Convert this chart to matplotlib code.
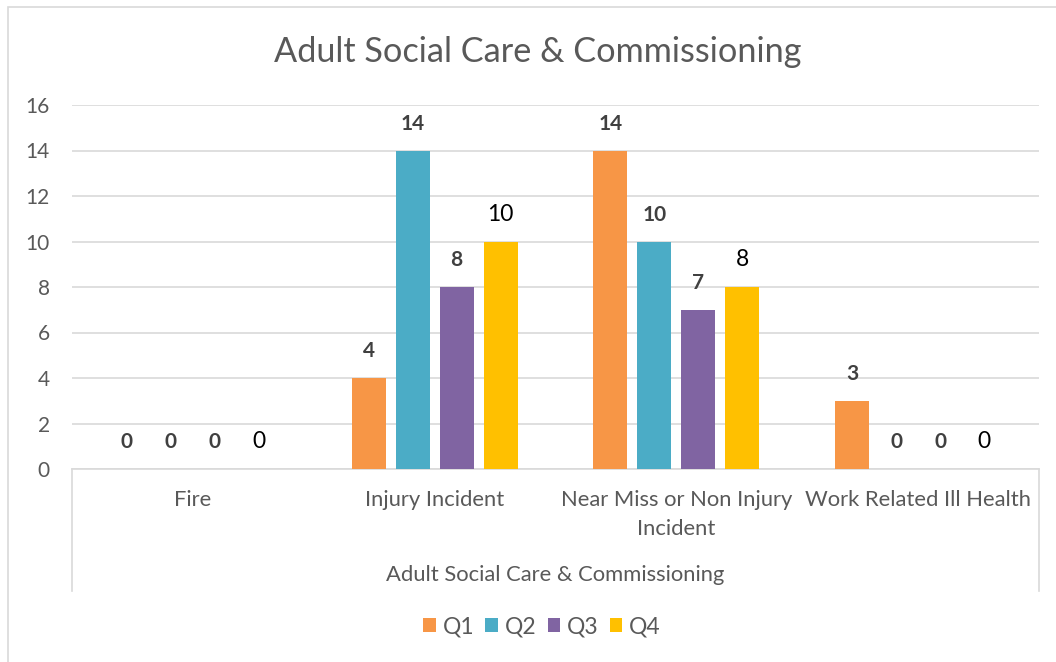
import matplotlib.pyplot as plt
import numpy as np
from matplotlib.patches import Rectangle

plt.rcParams['font.family'] = ['Lato', 'DejaVu Sans']

categories = ['Fire', 'Injury Incident', 'Near Miss or Non Injury\nIncident', 'Work Related Ill Health']
series = ['Q1', 'Q2', 'Q3', 'Q4']
q1 = [0, 4, 14, 3]
q2 = [0, 14, 10, 0]
q3 = [0, 8, 7, 0]
q4 = [0, 10, 8, 0]
colors = ['#F79646', '#4BACC6', '#8064A2', '#FFC000']
group_label = 'Adult Social Care & Commissioning'
title = 'Adult Social Care & Commissioning'

grey = '#595959'

fig = plt.figure(figsize=(10.56, 6.62), dpi=100)
ax = fig.add_axes([72 / 1056, 1 - 469 / 662, 967 / 1056, 364 / 662])

# chart border (only left/top visible in the original crop)
fig.patches.append(Rectangle((8 / 1056, -0.1), 1.2, 1 - 7 / 662 + 0.1,
                             transform=fig.transFigure, fill=False,
                             edgecolor='#D9D9D9', linewidth=1.2))

x = np.arange(len(categories))
pitch = 0.182
width = 0.14
for i, (name, vals) in enumerate(zip(series, [q1, q2, q3, q4])):
    pos = x + (i - 1.5) * pitch
    ax.bar(pos, vals, width, color=colors[i], label=name, zorder=3)
    for p, v in zip(pos, vals):
        if i < 3:
            ax.annotate(str(v), (p, v), xytext=(0, 12), textcoords='offset points',
                        ha='center', va='bottom', fontsize=15, fontweight='bold',
                        color='#404040')
        else:
            ax.annotate(str(v), (p, v), xytext=(0, 12), textcoords='offset points',
                        ha='center', va='bottom', fontsize=16.5, color='black')

ax.set_xlim(-0.5, len(categories) - 0.5)
ax.set_ylim(0, 16)
ax.set_yticks(range(0, 17, 2))
ax.yaxis.grid(True, color='#D9D9D9', linewidth=1.2, zorder=0)
ax.set_axisbelow(True)
ax.tick_params(axis='y', length=0, pad=16, labelsize=15, labelcolor=grey)
ax.set_xticks(x)
ax.set_xticklabels(categories, linespacing=1.55)
ax.tick_params(axis='x', length=0, pad=15, labelsize=15.8, labelcolor=grey)
for s in ['top', 'right', 'left']:
    ax.spines[s].set_visible(False)
ax.spines['bottom'].set_color('#D9D9D9')
ax.spines['bottom'].set_linewidth(1.2)

# multi-level category axis
ylow = -(591 - 469) / 364
for xa in [0, 1]:
    ax.plot([xa, xa], [0, ylow], transform=ax.transAxes, color='#D9D9D9',
            linewidth=1.2, clip_on=False)
ax.text(0.5, -(575 - 469) / 364, group_label, transform=ax.transAxes,
        ha='center', va='center', fontsize=15.8, color=grey)

fig.text(538 / 1056, 1 - 52 / 662, title, ha='center', va='center',
         fontsize=24.7, color=grey)

fig.legend(loc='center', bbox_to_anchor=(542 / 1056, 1 - 627 / 662), ncol=4,
           frameon=False, fontsize=16.5, labelcolor=grey, handlelength=0.55,
           handleheight=0.55, handletextpad=0.3, columnspacing=0.48)

fig.savefig('out.png', dpi=100)
